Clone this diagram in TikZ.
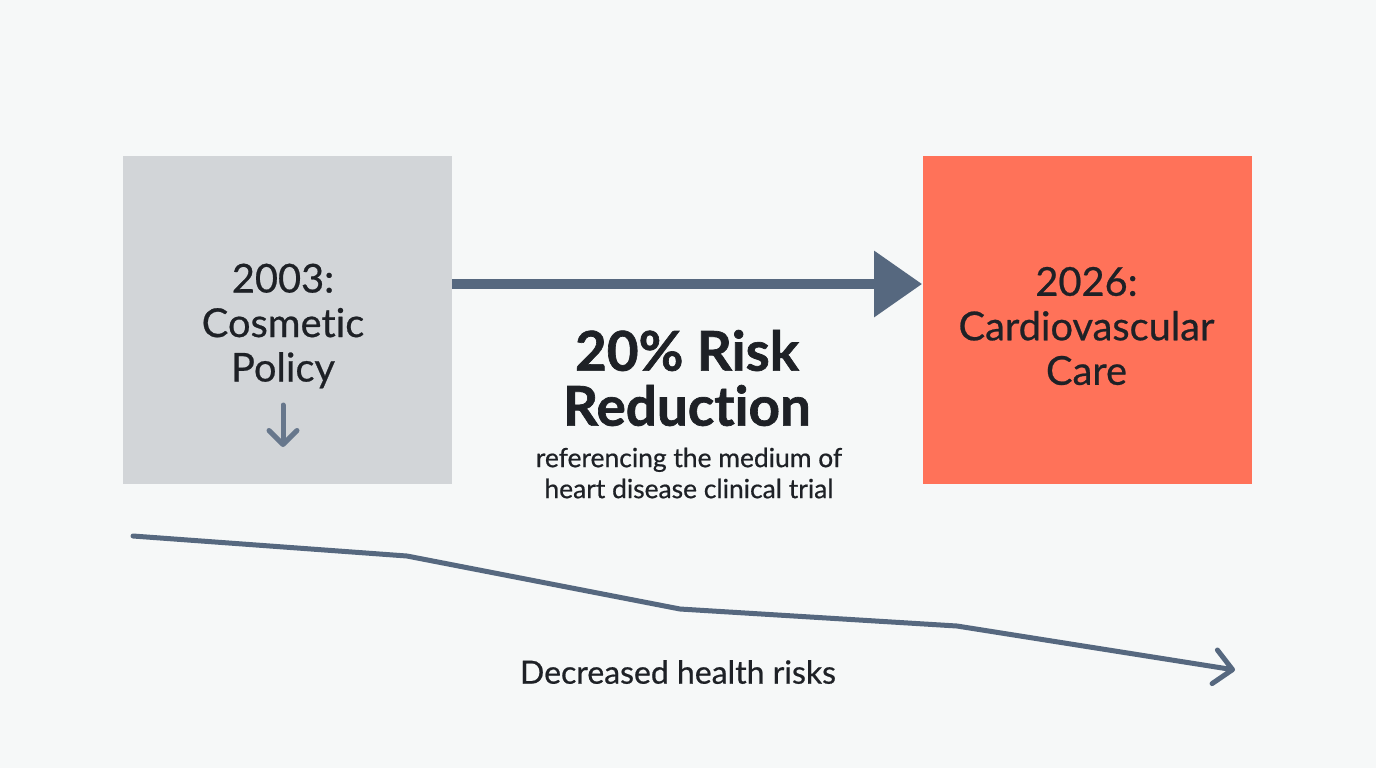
\documentclass[tikz,border=0pt]{standalone}
\usepackage{fontspec}
\setmainfont{Lato}[Ligatures=NoCommon]
\newfontfamily\medfont{Lato}[FakeBold=0.6, Ligatures=NoCommon]
\newfontfamily\heavyfont{Lato}[Ligatures=NoCommon, BoldFont={* Bold}, BoldFeatures={FakeBold=1.2}]
\usetikzlibrary{arrows.meta}
\definecolor{bgcol}{HTML}{F6F8F8}
\definecolor{boxgray}{HTML}{D2D5D8}
\definecolor{coral}{HTML}{FF7259}
\definecolor{slate}{HTML}{56687F}
\definecolor{ink}{HTML}{1E2126}
\tikzset{
  stagebox/.style={minimum width=164.5pt, minimum height=164pt, inner sep=0pt},
  stagetext/.style={text=ink, align=center, inner sep=0pt, font=\medfont\fontsize{19.9}{22.25}\selectfont},
}
\begin{document}
\begin{tikzpicture}[x=0.5pt, y=-0.5pt, >=Stealth]

    % 背景
    \fill[bgcol] (0,0) rectangle (1376,768);
    \useasboundingbox (0,0) rectangle (1376,768);

    % 两个阶段方框
    \node[stagebox, fill=boxgray] (past) at (287.5,320) {};
    \node[stagebox, fill=coral] (future) at (1087,320) {};

    % 方框内文字
    \node[stagetext] (pasttext) at (283,326) {2003:\\Cosmetic\\Policy};
    \node[stagetext] (futuretext) at (1086.5,326) {2026:\\Cardiovascular\\Care};

    % 方框内的小箭头
    \draw[slate!90, line width=2.5pt, line cap=round, line join=round,
          -{Straight Barb[length=7pt, width=14pt, round]}] (283,405) -- (283,447);

    % 主箭头
    \draw[slate, line width=5pt, -{Triangle[length=24pt, width=32pt]}]
      (past.east |- 0,284) -- (future.west |- 0,284);

    % 中间标题与说明
    \node[text=ink, align=center, inner sep=0pt, font=\heavyfont\fontsize{27.4}{27.5}\selectfont\bfseries]
      (headline) at (687,378) {20\% Risk\\Reduction};
    \node[text=ink, align=center, inner sep=0pt, font=\medfont\fontsize{13.2}{15.5}\selectfont]
      (note) at (689,473) {referencing the medium of\\heart disease clinical trial};

    % 下降趋势线
    \coordinate (t1) at (133,536);
    \coordinate (t2) at (407,556);
    \coordinate (t3) at (680,609);
    \coordinate (t4) at (957,626);
    \coordinate (t5) at (1235,670);
    \draw[slate, line width=2.5pt, line cap=round, line join=round,
          -{Straight Barb[length=9pt, width=17pt, round]}]
      (t1) -- (t2) -- (t3) -- (t4) -- (t5);

    % 趋势线说明
    \node[text=ink, inner sep=0pt, font=\medfont\fontsize{16}{18}\selectfont] (trendlabel) at (678,672) {Decreased health risks};

\end{tikzpicture}
\end{document}
